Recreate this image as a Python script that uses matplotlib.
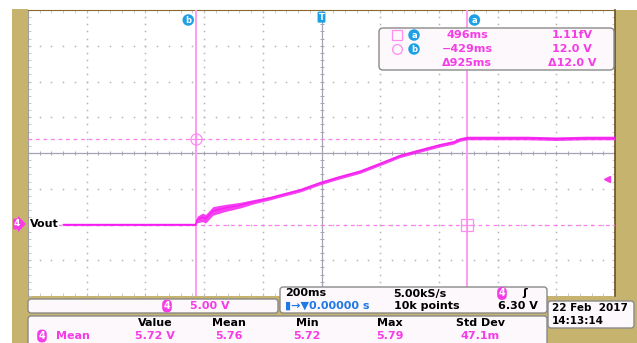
import numpy as np
import matplotlib.pyplot as plt
from matplotlib.patches import FancyBboxPatch, Rectangle
from matplotlib.transforms import blended_transform_factory

# waveform (time in ms, volts)
t_ms = [-880, -429, -424, -405, -395, -370, -330, -278, -230, -175, -120, -73,
        -5, 60, 131, 200, 267, 330, 404, 450, 472, 496, 600, 700, 800, 900, 1000]
volts = [0.0, 0.0, 0.7, 1.0, 0.8, 1.9, 2.3, 2.7, 3.2, 3.7, 4.3, 4.8,
         5.8, 6.6, 7.4, 8.5, 9.6, 10.3, 11.1, 11.5, 11.9, 12.1, 12.1, 12.1, 12.0, 12.1, 12.1]
noise = [0.15, 0.15, 0.45, 0.6, 0.6, 0.6, 0.5, 0.4, 0.3, 0.25, 0.25, 0.25,
         0.25, 0.25, 0.25, 0.25, 0.25, 0.25, 0.25, 0.25, 0.25, 0.25, 0.25, 0.25, 0.25, 0.25, 0.25]

cursor_t = {'a': 496, 'b': -429}
cursor_v = {'a': 0.0, 'b': 12.0}
readout_t = ['496ms', '\u2212429ms', '\u0394925ms']
readout_v = ['1.11fV', '12.0 V', '\u039412.0 V']
trig_level = 6.30

meas_heads = ['Value', 'Mean', 'Min', 'Max', 'Std Dev']
meas_vals = ['5.72 V', '5.76', '5.72', '5.79', '47.1m']

PINK = '#f53ce6'
TRACE = '#f51ef0'
BLUE = '#1ea0e6'
TAN = '#c6b46e'
W, H = 637, 343

fig = plt.figure(figsize=(6.37, 3.43), dpi=100)
fig.patch.set_facecolor('white')

# background frame (pixel coordinates)
bg = fig.add_axes([0, 0, 1, 1], zorder=0)
bg.set_xlim(0, W)
bg.set_ylim(H, 0)
bg.axis('off')
bg.add_patch(Rectangle((12, 9), 16, H - 9, color=TAN, lw=0))
bg.add_patch(Rectangle((615, 10), 22, H - 10, color=TAN, lw=0))
bg.add_patch(Rectangle((12, 296), W - 12, H - 296, color=TAN, lw=0))

# graticule
ax = fig.add_axes([28 / W, (H - 296) / H, 587 / W, 286 / H], zorder=1)
ax.set_xlim(-1000, 1000)
ax.set_ylim(-10, 30)
ax.set_facecolor('white')
ax.spines['bottom'].set_visible(False)
ax.spines['top'].set_color('#8a6a30')
ax.spines['left'].set_color('#a0a0a0')
ax.spines['right'].set_color('#6a5020')
ax.spines['right'].set_linewidth(1.2)
ax.set_xticks(np.arange(-1000, 1001, 200))
ax.set_xticks(np.arange(-1000, 1001, 40), minor=True)
ax.set_yticks(np.arange(-10, 31, 5))
ax.set_yticks(np.arange(-10, 31, 1), minor=True)
ax.tick_params(which='both', direction='in', length=2.5, color='#c0c0c0',
               top=True, right=True, labelbottom=False, labelleft=False)

dot_t = np.arange(-1000, 1001, 40)
dot_v = np.arange(-10, 31, 1)
for xv in range(-800, 801, 200):
    if xv != 0:
        ax.plot([xv] * len(dot_v), dot_v, ls='none', marker='s', ms=1.1, mew=0, color='#b4b4b4')
for yv in range(-5, 30, 5):
    if yv != 10:
        ax.plot(dot_t, [yv] * len(dot_t), ls='none', marker='s', ms=1.1, mew=0, color='#b4b4b4')
ax.axhline(10, color='#a4a4b4', lw=0.9)
ax.axvline(0, color='#a4a4b4', lw=0.9)
ax.plot(dot_t, [10] * len(dot_t), ls='none', marker='|', ms=3, mew=0.7, color='#a4a4b4')
ax.plot([0] * len(dot_v), dot_v, ls='none', marker='_', ms=3, mew=0.7, color='#a4a4b4')

# cursors
for k in ['a', 'b']:
    ax.axvline(cursor_t[k], color='#ff9cf0', lw=1.4, zorder=3)
    ax.axhline(cursor_v[k], color='#ff7cf0', lw=0.9, ls=(0, (3, 3)), zorder=3)
ax.plot(cursor_t['b'], cursor_v['b'], marker='o', ms=8, mfc='none', mec='#ff8cf0', mew=0.9, zorder=4)
ax.plot(cursor_t['a'], cursor_v['a'], marker='s', ms=8, mfc='none', mec='#ff8cf0', mew=0.9, zorder=4)
ax.plot(cursor_t['b'], cursor_v['b'], marker='+', ms=8, color='#ff8cf0', mew=0.8, zorder=4)
ax.plot(cursor_t['a'], cursor_v['a'], marker='+', ms=8, color='#ff8cf0', mew=0.8, zorder=4)

# trace
lo = [v - n for v, n in zip(volts, noise)]
hi = [v + n for v, n in zip(volts, noise)]
ax.fill_between(t_ms, lo, hi, color=TRACE, lw=0, alpha=0.85, zorder=5)
ax.plot(t_ms, volts, color=TRACE, lw=0.9, zorder=5)

trans = blended_transform_factory(ax.transData, ax.transAxes)
ax.text(cursor_t['b'] - 25, 0.965, 'b', transform=trans, ha='center', va='center',
        color='white', fontsize=6, fontweight='bold',
        bbox=dict(boxstyle='circle,pad=0.15', fc=BLUE, ec='none'), zorder=6)
ax.text(cursor_t['a'] + 25, 0.965, 'a', transform=trans, ha='center', va='center',
        color='white', fontsize=6, fontweight='bold',
        bbox=dict(boxstyle='circle,pad=0.15', fc=BLUE, ec='none'), zorder=6)
ax.text(0, 0.975, 'T', transform=trans, ha='center', va='center', color='white',
        fontsize=6, fontweight='bold',
        bbox=dict(boxstyle='round,pad=0.12', fc=BLUE, ec='none'), zorder=6)

transr = blended_transform_factory(ax.transAxes, ax.transData)
ax.plot(0.987, trig_level, marker='<', ms=4, color=PINK, transform=transr, clip_on=False, zorder=6)

# overlay: boxes and text (pixel coordinates)
ov = fig.add_axes([0, 0, 1, 1], zorder=2)
ov.set_xlim(0, W)
ov.set_ylim(H, 0)
ov.axis('off')
ov.patch.set_alpha(0)


def box(x0, y0, x1, y1, r=3):
    ov.add_patch(FancyBboxPatch((x0, y0), x1 - x0, y1 - y0,
                                boxstyle='round,pad=0,rounding_size=%g' % r,
                                fc='#fdf8fc', ec='#8a8a8a', lw=1.0))


def pill(x, y, s):
    ov.text(x, y, s, ha='center', va='center', color='white', fontsize=7, fontweight='bold',
            bbox=dict(boxstyle='round,pad=0.15,rounding_size=0.5', fc=PINK, ec='none'))


fs = 8
fw = 'bold'
# cursor readout
box(379, 28, 614, 70, r=4)
ov.plot(397, 35, marker='s', ms=7, mfc='none', mec='#ff8cf0', mew=0.9)
ov.plot(397, 49, marker='o', ms=7, mfc='none', mec='#ff8cf0', mew=0.9)
for yy, k in [(35, 'a'), (49, 'b')]:
    ov.text(414, yy, k, ha='center', va='center', color='white', fontsize=6, fontweight='bold',
            bbox=dict(boxstyle='circle,pad=0.15', fc=BLUE, ec='none'))
for i, yy in enumerate([35, 49, 63]):
    ov.text(467, yy, readout_t[i], ha='center', va='center', color=PINK, fontsize=fs, fontweight=fw)
    ov.text(572, yy, readout_v[i], ha='center', va='center', color=PINK, fontsize=fs, fontweight=fw)

# Vout label
ov.text(14, 224, '4', ha='left', va='center', color='white', fontsize=6.5, fontweight='bold',
        bbox=dict(boxstyle='rarrow,pad=0.1', fc=PINK, ec='none'))
ov.text(30, 224, 'Vout', ha='left', va='center', color='black', fontsize=fs, fontweight='bold',
        bbox=dict(boxstyle='square,pad=0.05', fc='white', ec='none'))

# channel scale box
box(28, 299, 278, 313)
pill(167, 306, '4')
ov.text(210, 306, '5.00 V', ha='center', va='center', color=PINK, fontsize=fs, fontweight=fw)

# timebase box
box(280, 287, 547, 313)
ov.text(285, 293.5, '200ms', ha='left', va='center', color='black', fontsize=fs, fontweight=fw)
ov.text(420, 293.5, '5.00kS/s', ha='center', va='center', color='black', fontsize=fs, fontweight=fw)
pill(502, 293.5, '4')
ov.text(525, 293.5, '\u0283', ha='center', va='center', color='black', fontsize=fs, fontweight='bold')
ov.text(285, 306, '\u25ae\u2192\u25bc0.00000 s', ha='left', va='center', color='#1e78e6',
        fontsize=fs, fontweight=fw)
ov.text(427, 306, '10k points', ha='center', va='center', color='black', fontsize=fs, fontweight=fw)
ov.text(538, 306, '%.2f V' % trig_level, ha='right', va='center', color='black', fontsize=fs, fontweight=fw)

# measurement box
box(28, 316, 547, 350)
hx = [155, 229, 307, 390, 480]
for x, h, v in zip(hx, meas_heads, meas_vals):
    ov.text(x, 323, h, ha='center', va='center', color='black', fontsize=fs, fontweight=fw)
    ov.text(x, 336, v, ha='center', va='center', color=PINK, fontsize=fs, fontweight=fw)
pill(42, 336, '4')
ov.text(56, 336, 'Mean', ha='left', va='center', color=PINK, fontsize=fs, fontweight=fw)

# date box
box(548, 301, 634, 328)
ov.text(552, 308, '22 Feb  2017', ha='left', va='center', color='black', fontsize=7.5, fontweight=fw)
ov.text(552, 321, '14:13:14', ha='left', va='center', color='black', fontsize=7.5, fontweight=fw)

fig.savefig('out.png', dpi=100)
